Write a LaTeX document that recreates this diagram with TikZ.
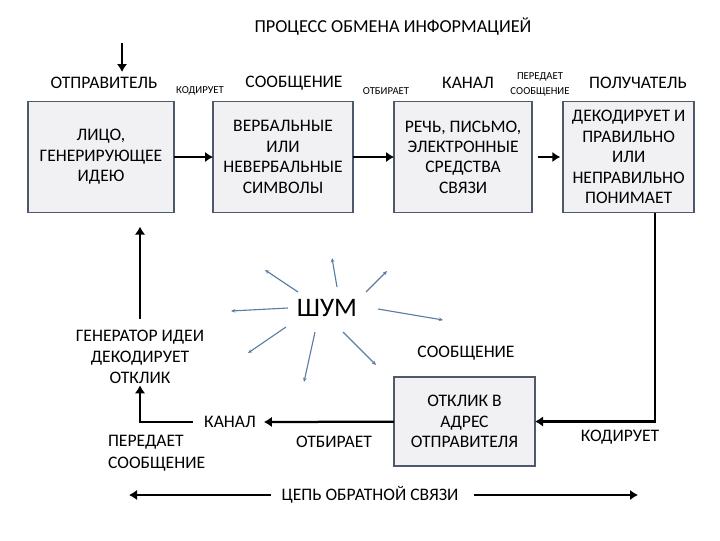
\documentclass[tikz,border=0pt]{standalone}
\usepackage{fontspec}
\setmainfont{Carlito}
\usetikzlibrary{positioning,arrows.meta}
\definecolor{boxframe}{HTML}{4E5A6C}
\definecolor{boxfill}{HTML}{F1F1F3}
\definecolor{raycol}{HTML}{5B7DA2}

\begin{document}
\begin{tikzpicture}[x=0.025cm,y=-0.025cm,every node/.style={outer sep=0pt,inner sep=0pt},
 block/.style={draw=boxframe,line width=1.1pt,fill=boxfill,align=center,
 font=\fontsize{12.5}{14.5}\selectfont,minimum height=2.775cm},
 lbl/.style={font=\fontsize{12.5}{14.5}\selectfont,align=center},
 smalllbl/.style={font=\fontsize{7.6}{10.6}\selectfont,align=center},
 flow/.style={line width=1.6pt,-{Latex[length=2mm,width=2.6mm]}},
 noiseray/.style={draw=raycol,line width=0.8pt,-{Stealth[length=3pt,width=2.6pt]}}]

  \useasboundingbox (0,0) rectangle (720,540);

  \node[lbl,font=\fontsize{13}{15}\selectfont] (title) at (393,27) {ПРОЦЕСС ОБМЕНА ИНФОРМАЦИЕЙ};

  % upper row
  \node[block,minimum width=3.65cm] (b1) at (101,157) {ЛИЦО,\\ГЕНЕРИРУЮЩЕЕ\\ИДЕЮ};
  \node[block,minimum width=3.5cm,right=0.975cm of b1] (b2) {ВЕРБАЛЬНЫЕ\\ИЛИ\\НЕВЕРБАЛЬНЫЕ\\СИМВОЛЫ};
  \node[block,minimum width=3.45cm,right=1.025cm of b2] (b3) {РЕЧЬ, ПИСЬМО,\\ЭЛЕКТРОННЫЕ\\СРЕДСТВА\\СВЯЗИ};
  \node[block,minimum width=3.275cm,right=0.775cm of b3] (b4) {ДЕКОДИРУЕТ И\\ПРАВИЛЬНО\\ИЛИ\\НЕПРАВИЛЬНО\\ПОНИМАЕТ};

  \node[lbl] (sender) at (104,83) {ОТПРАВИТЕЛЬ};
  \node[smalllbl] (enc) at (200,91) {КОДИРУЕТ};
  \node[lbl] (msg) at (294,83) {СООБЩЕНИЕ};
  \node[smalllbl] (sel) at (386,91) {ОТБИРАЕТ};
  \node[lbl] (chan) at (468,83) {КАНАЛ};
  \node[smalllbl] (send) at (540,84) {ПЕРЕДАЕТ\\СООБЩЕНИЕ};
  \node[lbl] (recv) at (638,83) {ПОЛУЧАТЕЛЬ};

  \coordinate (in) at (122,43);
  \draw[flow] (in) -- ++(0,29);
  \draw[flow] (b1) -- (b2);
  \draw[flow] (b2) -- (b3);
  \draw[flow,shorten <=4pt,shorten >=2pt] (b3) -- (b4);

  % feedback loop
  \node[block,minimum width=3.525cm,minimum height=2.225cm] (b5) at (464.5,421.5) {ОТКЛИК В\\АДРЕС\\ОТПРАВИТЕЛЯ};
  \draw[flow] ([xshift=0.66cm]b4.south) |- (b5);
  \node[lbl] (enc2) at (620,437) {КОДИРУЕТ};
  \node[lbl] (msg2) at (466,353) {СООБЩЕНИЕ};

  \node[lbl] (chan2) at (230,422) {КАНАЛ};
  \draw[flow] (b5) -- ([xshift=0.2cm]chan2.east);
  \node[lbl] (sel2) at (334,442) {ОТБИРАЕТ};
  \node[lbl,font=\fontsize{12.5}{15}\selectfont] (gen) at (140,357) {ГЕНЕРАТОР ИДЕИ\\ДЕКОДИРУЕТ\\ОТКЛИК};
  \draw[flow] ([xshift=-0.275cm]chan2.west) -| ([yshift=-1pt]gen.south);
  \node[lbl,align=left,font=\fontsize{12.5}{16}\selectfont,anchor=west] (send2) at (108,453) {ПЕРЕДАЕТ\\СООБЩЕНИЕ};
  \coordinate (g1) at (gen |- b1.south);
  \draw[flow] ([yshift=0.28cm]gen.north) -- ([yshift=-0.35cm]g1);

  % noise
  \node[lbl,font=\fontsize{19}{21}\selectfont] (noise) at (327,308) {ШУМ};
  \foreach \a/\b/\c/\d in {-29/-16/-62/-38, 10/-21/5/-50, 39/-16/60/-37, -39/0/-96/3,
    51/1/116/12, -41/19/-79/45, -12/24/-23/74, 16/24/49/57}
   \draw[noiseray] ([shift={(\a,\b)}]noise.center) -- ([shift={(\c,\d)}]noise.center);

  % bottom
  \node[lbl] (loop) at (370,495) {ЦЕПЬ ОБРАТНОЙ СВЯЗИ};
  \coordinate (fbL) at (129,495);
  \coordinate (fbR) at (638,495);
  \draw[flow] ([xshift=-0.275cm]loop.west) -- (fbL);
  \draw[flow] ([xshift=0.4cm]loop.east) -- (fbR);

\end{tikzpicture}
\end{document}
